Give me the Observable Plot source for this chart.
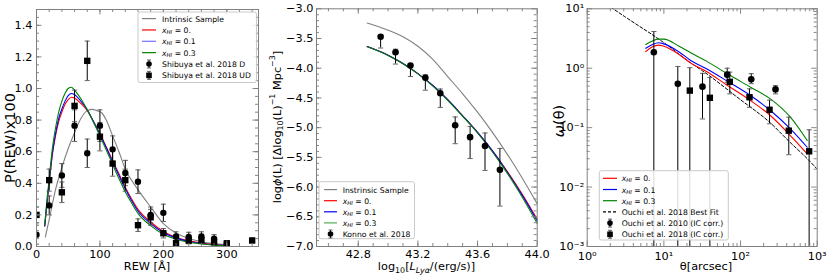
<!DOCTYPE html>
<html><head><meta charset="utf-8">
<script src="https://cdn.jsdelivr.net/npm/d3@7"></script>
<script src="https://cdn.jsdelivr.net/npm/@observablehq/plot@0.6"></script>
<style>
body{margin:0;background:#fff;}
#wrap{position:relative;width:830px;height:277px;overflow:hidden;background:#fff;}
#wrap svg{position:absolute;top:0;}
</style></head><body><div id="wrap"></div>
<script>
// ---------------- Panel 1: REW distribution ----------------
const rewD  = [0,20,40,60,80,100,120,140,160,180,200,220,240,260,280,300];
const pD    = [0.075,0.26,0.45,0.765,0.59,0.765,0.615,0.465,0.41,0.20,0.213,0.063,0.06,0.063,0.05,0.02];
const errD  = [0.06,0.06,0.075,0.1,0.09,0.1,0.085,0.08,0.075,0.05,0.055,0.03,0.03,0.03,0.025,0.015];
const rewUD = [0,20,40,60,80,100,120,140,160,180,200,220,240,260,280,300,340];
const pUD   = [0.20,0.42,0.343,0.89,1.175,0.695,0.525,0.42,0.135,0.185,0.084,0.021,0.037,0.04,0.027,0.02,0.038];
const errUD = [0.05,0.07,0.065,0.1,0.125,0.09,0.08,0.07,0.04,0.05,0.03,0.02,0.02,0.02,0.015,0.015,0.015];
const rewIntr = [14,20,30,40,50,60,70,80,88,95,103,110,120,130,140,160,180,200,220,240,260,280,300];
const pIntr   = [0.06,0.17,0.36,0.5,0.62,0.72,0.81,0.86,0.868,0.86,0.845,0.80,0.70,0.60,0.49,0.36,0.25,0.145,0.085,0.05,0.03,0.018,0.01];
const rewModel = [13,16,20,25,30,35,40,45,50,55,60,70,80,90,100,110,120,130,140,150,160,180,200,220,240,260,280,300];
const pX00 = [0.13,0.25,0.40,0.58,0.70,0.79,0.85,0.90,0.93,0.945,0.94,0.905,0.86,0.79,0.715,0.63,0.545,0.46,0.375,0.30,0.235,0.155,0.095,0.058,0.036,0.022,0.013,0.008];
const pX01 = [0.13,0.26,0.41,0.59,0.715,0.81,0.87,0.92,0.955,0.968,0.96,0.92,0.865,0.79,0.71,0.625,0.535,0.45,0.365,0.29,0.225,0.145,0.088,0.053,0.032,0.019,0.011,0.007];
const pX03 = [0.14,0.27,0.43,0.62,0.75,0.85,0.92,0.97,1.0,1.008,0.99,0.935,0.865,0.785,0.70,0.61,0.52,0.43,0.345,0.275,0.21,0.132,0.078,0.046,0.027,0.016,0.009,0.005];
const p1XTicks = [0,100,200,300];
const p1YTicks = [0,0.2,0.4,0.6,0.8,1.0,1.2,1.4];

// ---------------- Panel 2: Lya luminosity function ----------------
const konnoL   = [42.95,43.05,43.15,43.25,43.35,43.45,43.55,43.65,43.75];
const konnoPhi = [-3.47,-3.73,-3.955,-4.16,-4.42,-4.96,-5.16,-5.31,-5.71];
const konnoHi  = [-3.44,-3.68,-3.92,-4.11,-4.35,-4.82,-4.98,-5.09,-5.35];
const konnoLo  = [-3.66,-3.93,-4.14,-4.37,-4.66,-5.27,-5.52,-5.72,-6.32];
const lModel   = [42.86,43.0,43.1,43.2,43.3,43.4,43.5,43.6,43.7,43.8,43.9,44.0];
const phiIntr  = [-3.24,-3.36,-3.47,-3.63,-3.85,-4.14,-4.43,-4.74,-5.08,-5.45,-5.85,-6.28];
const phiX00   = [-3.635,-3.78,-3.92,-4.09,-4.29,-4.53,-4.80,-5.08,-5.39,-5.74,-6.12,-6.54];
const phiX01   = [-3.635,-3.78,-3.92,-4.09,-4.29,-4.53,-4.80,-5.08,-5.39,-5.75,-6.14,-6.57];
const phiX03   = [-3.64,-3.785,-3.925,-4.095,-4.30,-4.54,-4.81,-5.09,-5.41,-5.77,-6.17,-6.61];
const p2XTicks = [42.8,43.2,43.6,44.0];
const p2YTicks = [-3.0,-3.5,-4.0,-4.5,-5.0,-5.5,-6.0,-6.5,-7.0];

// ---------------- Panel 3: angular correlation function ----------------
const o10Theta = [7.4,15.2,31.9,67,138,286];
const o10W     = [1.86,0.546,0.49,0.78,0.65,0.44];
const o10Hi    = [4.15,1.07,0.82,1.0,0.81,0.51];
const o10Lo    = [0,0,0.14,0.58,0.55,0.37];
const o18Theta = [21.8,39.8,72.5,131,239,426,785];
const o18W     = [0.42,0.318,0.59,0.325,0.20,0.089,0.040];
const o18Hi    = [1.02,0.70,0.86,0.45,0.29,0.15,0.092];
const o18Lo    = [0,0,0.37,0.22,0.116,0.035,0];
const thModel  = [5.8,7.1,8.5,10,15.8,22.4,35.5,67.6,135,245,447,741];
const wX00     = [1.91,2.29,2.45,2.34,1.70,1.22,0.89,0.513,0.286,0.160,0.0736,0.0363];
const wX01     = [2.17,2.51,2.69,2.57,1.88,1.35,0.99,0.603,0.347,0.194,0.0955,0.0468];
const wX03     = [2.51,2.88,3.09,3.09,2.34,1.82,1.33,0.805,0.479,0.305,0.150,0.0607];
const thFit    = [1.585,3.16,10,22.4,31.6,100,240,437,794,1000];
const wFit     = [13.2,7.24,2.69,1.23,0.912,0.295,0.123,0.0575,0.0275,0.02];
const p3XTicks = [1,10,100,1000];
const p3YTicks = [0.001,0.01,0.1,1,10];
const supMap = {"-3":"10⁻³","-2":"10⁻²","-1":"10⁻¹","0":"10⁰","1":"10¹","2":"10²","3":"10³"};

// ---------------- helpers ----------------
const FONT = "DejaVu Sans";
const TICK_COLOR = "#7a7a7a";
const zip = (xs, ys) => xs.map((x, i) => ({x, y: ys[i]}));
const hbar = {draw(ctx, size) { const r = Math.sqrt(size / Math.PI); ctx.moveTo(-r, 0); ctx.lineTo(r, 0); }};
const range = (a, b, s) => d3.range(Math.round((b - a) / s) + 1).map(i => +(a + i * s).toFixed(6));
const logMinor = (a, b) => { const out = []; for (let e = a; e < b; e++) for (let k = 2; k <= 9; k++) out.push(k * 10 ** e); return out; };

function frameTicks({W, H, ml, mr, mt, mb, xMaj, xMin, yMaj, yMin}) {
  const fw = W - ml - mr, fh = H - mt - mb;
  const maj = 5.5, min = 3;
  const o = {stroke: TICK_COLOR, strokeWidth: 0.9};
  return [
    Plot.tickY(yMaj, {...o, y: d => d, insetRight: fw - maj}),
    Plot.tickY(yMaj, {...o, y: d => d, insetLeft: fw - maj}),
    Plot.tickY(yMin, {...o, y: d => d, insetRight: fw - min}),
    Plot.tickY(yMin, {...o, y: d => d, insetLeft: fw - min}),
    Plot.tickX(xMaj, {...o, x: d => d, insetTop: fh - maj}),
    Plot.tickX(xMaj, {...o, x: d => d, insetBottom: fh - maj}),
    Plot.tickX(xMin, {...o, x: d => d, insetTop: fh - min}),
    Plot.tickX(xMin, {...o, x: d => d, insetBottom: fh - min})
  ];
}

// rich text: parts = [{t, it, sub, sup}]
function rich(sel, parts, size) {
  let shift = 0;
  parts.forEach(p => {
    const target = p.sub ? 0.28 * size : p.sup ? -0.42 * size : 0;
    const ts = sel.append("tspan").text(p.t);
    ts.attr("dy", target - shift);
    shift = target;
    ts.attr("font-size", (p.sub || p.sup) ? size * 0.7 : size);
    if (p.it) ts.attr("font-style", "italic");
  });
}
function ylabel(svg, cx, cy, parts, size) {
  const t = d3.select(svg).append("text")
    .attr("transform", `translate(${cx},${cy}) rotate(-90)`)
    .attr("text-anchor", "middle").attr("font-family", FONT).attr("font-size", size)
    .attr("dominant-baseline", "central").attr("fill", "black");
  rich(t, parts, size);
}
function xlabel(svg, cx, y, parts, size) {
  const t = d3.select(svg).append("text")
    .attr("x", cx).attr("y", y)
    .attr("text-anchor", "middle").attr("font-family", FONT).attr("font-size", size).attr("fill", "black");
  rich(t, parts, size);
}
function legend(svg, {x, y, w, h, y0, dy, hx0, hx1, tx, entries, size}) {
  const g = d3.select(svg).append("g");
  g.append("rect").attr("x", x).attr("y", y).attr("width", w).attr("height", h)
    .attr("rx", 2).attr("fill", "white").attr("fill-opacity", 0.85).attr("stroke", "#c4c4c4").attr("stroke-width", 0.9);
  entries.forEach((e, i) => {
    const cy = y0 + i * dy;
    const hc = (hx0 + hx1) / 2;
    if (e.kind === "line") {
      g.append("line").attr("x1", hx0).attr("x2", hx1).attr("y1", cy).attr("y2", cy)
        .attr("stroke", e.color).attr("stroke-width", 1.2).attr("stroke-dasharray", e.dash || null);
    } else {
      g.append("line").attr("x1", hc).attr("x2", hc).attr("y1", cy - 4).attr("y2", cy + 4).attr("stroke", "black").attr("stroke-width", 1);
      g.append("line").attr("x1", hc - 2).attr("x2", hc + 2).attr("y1", cy - 4).attr("y2", cy - 4).attr("stroke", "#555").attr("stroke-width", 0.9);
      g.append("line").attr("x1", hc - 2).attr("x2", hc + 2).attr("y1", cy + 4).attr("y2", cy + 4).attr("stroke", "#555").attr("stroke-width", 0.9);
      if (e.kind === "circle") g.append("circle").attr("cx", hc).attr("cy", cy).attr("r", 2.8).attr("fill", "black");
      else g.append("rect").attr("x", hc - 2.8).attr("y", cy - 2.8).attr("width", 5.6).attr("height", 5.6).attr("fill", "black");
    }
    const t = g.append("text").attr("x", tx).attr("y", cy).attr("dominant-baseline", "central")
      .attr("text-anchor", "start")
      .attr("font-family", FONT).attr("font-size", size).attr("fill", "black");
    rich(t, e.label, size);
  });
}
const xhi = v => [{t: "x", it: true}, {t: "HI", it: true, sub: true}, {t: " = " + v}];
const style = {fontFamily: FONT, fontSize: "11.3px", background: "transparent", overflow: "visible", color: "black"};
const wrap = document.getElementById("wrap");
function place(svg, left) { svg.style.left = left + "px"; wrap.appendChild(svg); }

function errMarks(rows, capColor) {
  return [
    Plot.ruleX(rows, {x: "x", y1: "lo", y2: "hi", stroke: "black", strokeWidth: 1, clip: true}),
    Plot.dot(rows, {x: "x", y: "hi", symbol: hbar, r: 2.6, fill: "none", stroke: capColor, strokeWidth: 0.9, clip: true}),
    Plot.dot(rows, {x: "x", y: "lo", symbol: hbar, r: 2.6, fill: "none", stroke: capColor, strokeWidth: 0.9, clip: true})
  ];
}

// ================= Panel 1 =================
{
  const W = 270, H = 277, ml = 36, mr = 12, mt = 9, mb = 31;
  const dRows = rewD.map((x, i) => ({x, y: pD[i], lo: pD[i] - errD[i], hi: pD[i] + errD[i]}));
  const udRows = rewUD.map((x, i) => ({x, y: pUD[i], lo: pUD[i] - errUD[i], hi: pUD[i] + errUD[i]}));
  const svg = Plot.plot({
    width: W, height: H, marginLeft: ml, marginRight: mr, marginTop: mt, marginBottom: mb, style,
    x: {domain: [0, 350]}, y: {domain: [0, 1.5]},
    marks: [
      Plot.line(zip(rewIntr, pIntr), {x: "x", y: "y", stroke: "gray", strokeWidth: 1.1, curve: "monotone-x"}),
      Plot.line(zip(rewModel, pX00), {x: "x", y: "y", stroke: "red", strokeWidth: 1.1, curve: "monotone-x"}),
      Plot.line(zip(rewModel, pX01), {x: "x", y: "y", stroke: "blue", strokeWidth: 1.1, curve: "monotone-x"}),
      Plot.line(zip(rewModel, pX03), {x: "x", y: "y", stroke: "green", strokeWidth: 1.1, curve: "monotone-x"}),
      ...errMarks(dRows, "#555"),
      ...errMarks(udRows, "#555"),
      Plot.dot(dRows, {x: "x", y: "y", r: 3.2, fill: "black", clip: true}),
      Plot.dot(udRows, {x: "x", y: "y", r: 3.6, symbol: "square", fill: "black", clip: true}),
      ...frameTicks({W, H, ml, mr, mt, mb, xMaj: p1XTicks, xMin: range(20, 340, 20), yMaj: p1YTicks, yMin: range(0.05, 1.45, 0.05)}),
      Plot.axisX({ticks: p1XTicks, tickSize: 0, tickPadding: 3, tickFormat: d3.format("d"), label: null, fontSize: 11.3}),
      Plot.axisY({ticks: p1YTicks, tickSize: 0, tickPadding: 4, tickFormat: d3.format(".1f"), label: null, fontSize: 11.3}),
      Plot.frame({stroke: "#808080", strokeWidth: 1})
    ]
  });
  ylabel(svg, 10, 138, [{t: "P(REW)x100"}], 14.5);
  xlabel(svg, 147, 269.5, [{t: "REW [Å]"}], 11.3);
  legend(svg, {x: 138, y: 12, w: 118.5, h: 70.5, y0: 18.6, dy: 11.35, hx0: 142, hx1: 156, tx: 162, size: 7.7, entries: [
    {kind: "line", color: "gray", label: [{t: "Intrinsic Sample"}]},
    {kind: "line", color: "red", label: xhi("0.")},
    {kind: "line", color: "#7070ff", label: xhi("0.1")},
    {kind: "line", color: "green", label: xhi("0.3")},
    {kind: "circle", label: [{t: "Shibuya et al. 2018 D"}]},
    {kind: "square", label: [{t: "Shibuya et al. 2018 UD"}]}
  ]});
  place(svg, 0);
}

// ================= Panel 2 =================
{
  const W = 285, H = 277, ml = 46, mr = 18.3, mt = 8.3, mb = 31;
  const kRows = konnoL.map((x, i) => ({x, y: konnoPhi[i], lo: konnoLo[i], hi: konnoHi[i]}));
  const svg = Plot.plot({
    width: W, height: H, marginLeft: ml, marginRight: mr, marginTop: mt, marginBottom: mb, style,
    x: {domain: [42.52, 44.0]}, y: {domain: [-7.0, -3.0]},
    marks: [
      Plot.line(zip(lModel, phiIntr), {x: "x", y: "y", stroke: "gray", strokeWidth: 1.1, curve: "monotone-x"}),
      Plot.line(zip(lModel, phiX00), {x: "x", y: "y", stroke: "red", strokeWidth: 1.1, curve: "monotone-x"}),
      Plot.line(zip(lModel, phiX01), {x: "x", y: "y", stroke: "blue", strokeWidth: 1.1, curve: "monotone-x"}),
      Plot.line(zip(lModel, phiX03), {x: "x", y: "y", stroke: "green", strokeWidth: 1.1, curve: "monotone-x"}),
      ...errMarks(kRows, "#555"),
      Plot.dot(kRows, {x: "x", y: "y", r: 3.3, fill: "black"}),
      ...frameTicks({W, H, ml, mr, mt, mb, xMaj: p2XTicks, xMin: range(42.6, 43.9, 0.1), yMaj: p2YTicks, yMin: range(-6.9, -3.1, 0.1)}),
      Plot.axisX({ticks: p2XTicks, tickSize: 0, tickPadding: 3, tickFormat: d3.format(".1f"), label: null, fontSize: 11.3}),
      Plot.axisY({ticks: p2YTicks, tickSize: 0, tickPadding: 3, tickFormat: d3.format(".1f"), label: null, fontSize: 11.3}),
      Plot.frame({stroke: "#808080", strokeWidth: 1})
    ]
  });
  ylabel(svg, 7, 127, [{t: "log"}, {t: "ϕ", it: true}, {t: "(L) [Δlog"}, {t: "10", sub: true}, {t: "(L)"}, {t: "−1", sup: true}, {t: " Mpc"}, {t: "−3", sup: true}, {t: "]"}], 11.3);
  xlabel(svg, 156.5, 269.5, [{t: "log"}, {t: "10", sub: true}, {t: "["}, {t: "L", it: true}, {t: "Lyα", it: true, sub: true}, {t: "/(erg/s)]"}], 11.3);
  legend(svg, {x: 49, y: 181.7, w: 95.5, h: 57, y0: 189.6, dy: 11.1, hx0: 54, hx1: 67, tx: 72.7, size: 7.7, entries: [
    {kind: "line", color: "gray", label: [{t: "Instrinsic Sample"}]},
    {kind: "line", color: "red", label: xhi("0.")},
    {kind: "line", color: "blue", label: xhi("0.1")},
    {kind: "line", color: "#55aa55", label: xhi("0.3")},
    {kind: "circle", label: [{t: "Konno et al. 2018"}]}
  ]});
  place(svg, 270);
}

// ================= Panel 3 =================
{
  const W = 282, H = 277, ml = 38.7, mr = 13.3, mt = 8.3, mb = 31;
  const FLOOR = 1e-4;
  const r10 = o10Theta.map((x, i) => ({x, y: o10W[i], lo: o10Lo[i] > 0 ? o10Lo[i] : FLOOR, hi: o10Hi[i]}));
  const r18 = o18Theta.map((x, i) => ({x, y: o18W[i], lo: o18Lo[i] > 0 ? o18Lo[i] : FLOOR, hi: o18Hi[i]}));
  const svg = Plot.plot({
    width: W, height: H, marginLeft: ml, marginRight: mr, marginTop: mt, marginBottom: mb, style,
    x: {type: "log", domain: [1, 1000]}, y: {type: "log", domain: [0.001, 10]},
    marks: [
      Plot.line(zip(thFit, wFit), {x: "x", y: "y", stroke: "black", strokeWidth: 1, strokeDasharray: "3,2", curve: "monotone-x", clip: true}),
      Plot.line(zip(thModel, wX00), {x: "x", y: "y", stroke: "red", strokeWidth: 1.1, curve: "monotone-x"}),
      Plot.line(zip(thModel, wX01), {x: "x", y: "y", stroke: "blue", strokeWidth: 1.1, curve: "monotone-x"}),
      Plot.line(zip(thModel, wX03), {x: "x", y: "y", stroke: "green", strokeWidth: 1.1, curve: "monotone-x"}),
      Plot.ruleX(r10, {x: "x", y1: "lo", y2: "hi", stroke: "black", strokeWidth: 1, clip: true}),
      Plot.ruleX(r18, {x: "x", y1: "lo", y2: "hi", stroke: "black", strokeWidth: 1, clip: true}),
      Plot.dot(r10, {x: "x", y: "hi", symbol: hbar, r: 2.6, fill: "none", stroke: "#555", strokeWidth: 0.9}),
      Plot.dot(r10.filter(d => d.lo > FLOOR), {x: "x", y: "lo", symbol: hbar, r: 2.6, fill: "none", stroke: "#555", strokeWidth: 0.9}),
      Plot.dot(r18, {x: "x", y: "hi", symbol: hbar, r: 2.6, fill: "none", stroke: "#555", strokeWidth: 0.9}),
      Plot.dot(r18.filter(d => d.lo > FLOOR), {x: "x", y: "lo", symbol: hbar, r: 2.6, fill: "none", stroke: "#555", strokeWidth: 0.9}),
      Plot.dot(r10, {x: "x", y: "y", r: 3.3, fill: "black"}),
      Plot.dot(r18, {x: "x", y: "y", r: 3.6, symbol: "square", fill: "black"}),
      ...frameTicks({W, H, ml, mr, mt, mb, xMaj: p3XTicks, xMin: logMinor(0, 3), yMaj: p3YTicks, yMin: logMinor(-3, 1)}),
      Plot.axisX({ticks: p3XTicks, tickSize: 0, tickPadding: 5, tickFormat: d => supMap[Math.round(Math.log10(d))], label: null, fontSize: 11.3}),
      Plot.axisY({ticks: p3YTicks, tickSize: 0, tickPadding: 3, tickFormat: d => supMap[Math.round(Math.log10(d))], label: null, fontSize: 11.3}),
      Plot.frame({stroke: "#808080", strokeWidth: 1})
    ]
  });
  ylabel(svg, 11, 121, [{t: "ω", it: true}, {t: "(θ)"}], 14.5);
  xlabel(svg, 158, 269.5, [{t: "θ[arcsec]"}], 11.3);
  legend(svg, {x: 51.3, y: 170.7, w: 129, h: 69.3, y0: 178.3, dy: 11.2, hx0: 55, hx1: 69, tx: 73.7, size: 7.7, entries: [
    {kind: "line", color: "red", label: xhi("0.")},
    {kind: "line", color: "blue", label: xhi("0.1")},
    {kind: "line", color: "green", label: xhi("0.3")},
    {kind: "line", color: "black", dash: "3,2", label: [{t: "Ouchi et al. 2018 Best Fit"}]},
    {kind: "circle", label: [{t: "Ouchi et al. 2010 (IC corr.)"}]},
    {kind: "square", label: [{t: "Ouchi et al. 2018 (IC corr.)"}]}
  ]});
  place(svg, 548);
}
</script></body></html>
